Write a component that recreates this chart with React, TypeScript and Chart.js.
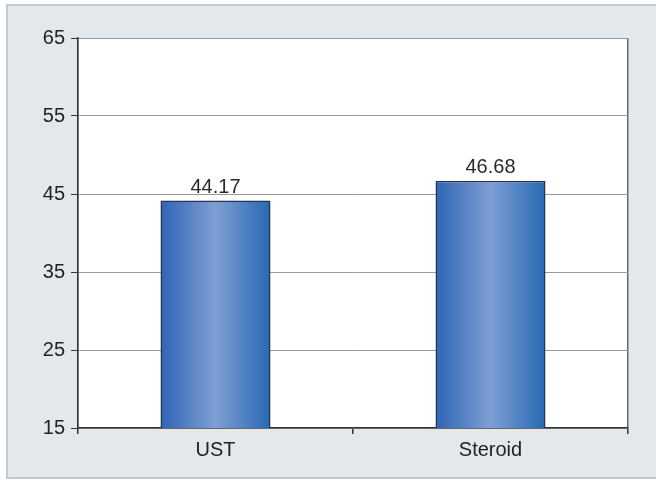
import React, { useEffect, useRef } from "react";
import { Chart, registerables } from "chart.js";

Chart.register(...registerables);

const categories = ["UST", "Steroid"];
const values = [44.17, 46.68];
const yMin = 15;
const yMax = 65;
const yStep = 10;

const FONT = "'Liberation Sans', Arial, sans-serif";
const BAR_PCT = 0.4;

const panelPlugin = {
  id: "panel",
  beforeDraw(chart: any) {
    const { ctx, width, height } = chart;
    ctx.save();
    ctx.fillStyle = "#ffffff";
    ctx.fillRect(0, 0, width, height);
    ctx.fillStyle = "#e3e8ed";
    ctx.fillRect(7, 5, width - 7, height - 12);
    ctx.strokeStyle = "#c5c9ce";
    ctx.lineWidth = 2;
    ctx.strokeRect(7, 5, width, height - 12);
    const a = chart.chartArea;
    ctx.fillStyle = "#ffffff";
    ctx.fillRect(a.left, a.top, a.right - a.left, a.bottom - a.top);
    ctx.restore();
  },
};

const labelPlugin = {
  id: "valueLabels",
  afterDatasetsDraw(chart: any) {
    const { ctx } = chart;
    const meta = chart.getDatasetMeta(0);
    ctx.save();
    ctx.font = `20px ${FONT}`;
    ctx.fillStyle = "#2a2a2a";
    ctx.textAlign = "center";
    ctx.textBaseline = "bottom";
    meta.data.forEach((el: any, i: number) => {
      ctx.fillText(values[i].toFixed(2), el.x, el.y - 3);
    });
    ctx.restore();
  },
};

function barFill(context: any) {
  const chart = context.chart;
  const xs = chart.scales?.x;
  const area = chart.chartArea;
  if (!xs || !area) return "#4a7cc4";
  const cx = xs.getPixelForValue(context.dataIndex);
  const w = ((area.right - area.left) / categories.length) * BAR_PCT;
  if (!isFinite(cx) || !isFinite(w)) return "#4a7cc4";
  const g = chart.ctx.createLinearGradient(cx - w / 2, 0, cx + w / 2, 0);
  g.addColorStop(0, "#2e64b6");
  g.addColorStop(0.5, "#7e9fd3");
  g.addColorStop(1, "#2768b3");
  return g;
}

export default function App() {
  const ref = useRef<HTMLCanvasElement | null>(null);
  useEffect(() => {
    if (!ref.current) return;
    const chart = new Chart(ref.current, {
      type: "bar",
      data: {
        labels: categories,
        datasets: [
          {
            data: values,
            backgroundColor: barFill as any,
            borderColor: "#27324d",
            borderWidth: 1.5,
            borderSkipped: false,
            barPercentage: BAR_PCT,
            categoryPercentage: 1,
          },
        ],
      },
      options: {
        animation: false,
        responsive: false,
        maintainAspectRatio: false,
        layout: { padding: { left: 8, top: 38, right: 28, bottom: 12 } },
        plugins: { legend: { display: false }, tooltip: { enabled: false } },
        scales: {
          x: {
            offset: true,
            grid: {
              offset: true,
              color: (c: any) => (c.index === 1 ? "rgba(0,0,0,0)" : "#666"),
              tickColor: "#333",
              tickLength: 6,
              lineWidth: 1.5,
            },
            border: { display: true, color: "#333", width: 1.5 },
            ticks: { color: "#222", font: { family: FONT, size: 20 }, padding: 4 },
            afterFit: (s: any) => {
              s.height = 45;
            },
          },
          y: {
            min: yMin,
            max: yMax,
            ticks: {
              stepSize: yStep,
              color: "#222",
              font: { family: FONT, size: 20 },
              padding: 6,
            },
            grid: { color: "#9a9a9a", tickColor: "#333", tickLength: 7, lineWidth: 1 },
            border: { display: true, color: "#333", width: 1.5 },
            afterFit: (s: any) => {
              s.width = 70;
            },
          },
        },
      },
      plugins: [panelPlugin, labelPlugin],
    });
    return () => chart.destroy();
  }, []);
  return (
    <div style={{ position: "fixed", left: 0, top: 0, width: 656, height: 485 }}>
      <canvas ref={ref} width={656} height={485} style={{ width: 656, height: 485 }} />
    </div>
  );
}
